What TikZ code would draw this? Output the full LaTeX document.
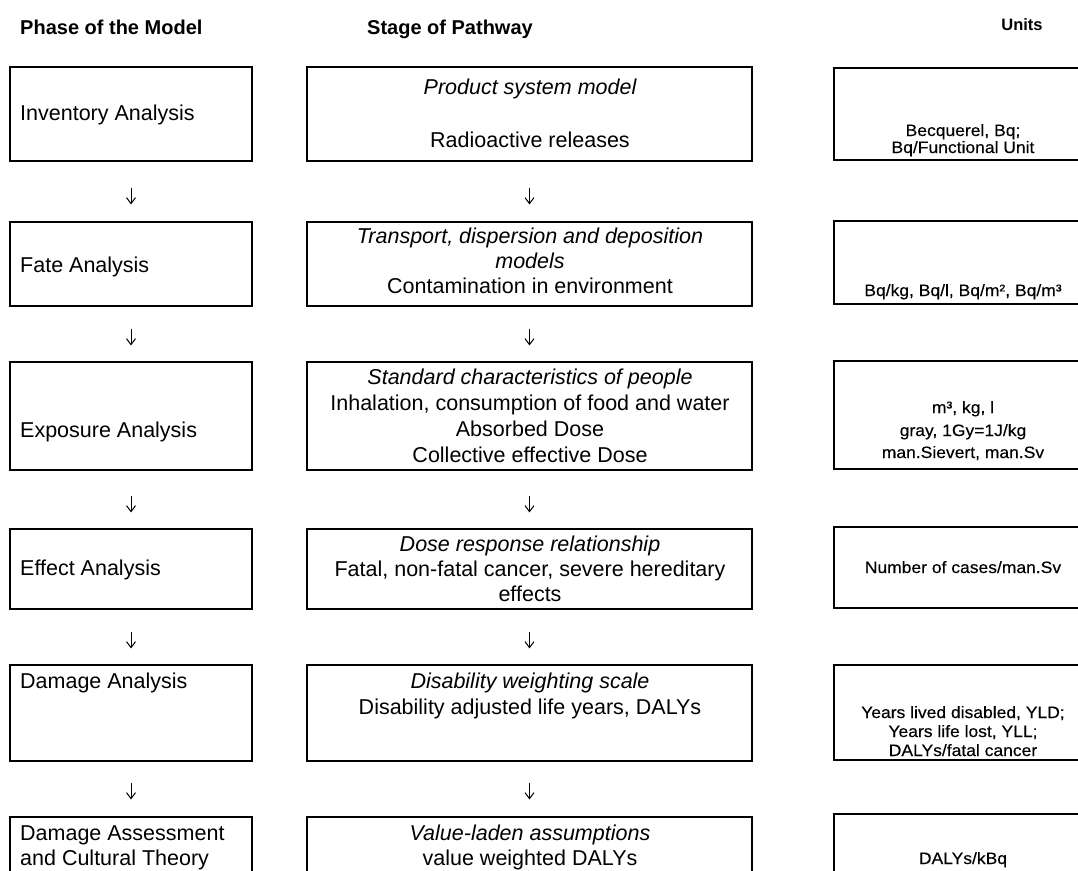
\documentclass[tikz,border=0pt]{standalone}
\usepackage{fontspec}
\setmainfont{Liberation Sans}
\newfontfamily\unitfont[FakeStretch=1.06,FakeBold=0.25]{Liberation Sans}
\usetikzlibrary{arrows.meta}

\begin{document}
\begin{tikzpicture}[x=1pt,y=-1pt,
  box/.style={draw, line width=1.1pt, rectangle, inner sep=0pt},
  body/.style={anchor=base, inner sep=0pt, font=\fontsize{21.5}{25.5}\selectfont},
  bodyl/.style={anchor=base west, inner sep=0pt, font=\fontsize{21.5}{25.5}\selectfont},
  bodyit/.style={anchor=base, inner sep=0pt, font=\fontsize{21.5}{25.5}\selectfont\itshape},
  unit/.style={anchor=base, inner sep=0pt, font=\unitfont\fontsize{16.5}{19}\selectfont},
  head/.style={anchor=base, inner sep=0pt, font=\fontsize{20}{23}\selectfont\bfseries},
  arr/.style={-{Straight Barb[length=6pt,width=9pt]}, line width=1pt},
  lbox/.style={box, minimum width=242pt},
  mbox/.style={box, minimum width=445pt},
  rbox/.style={box, minimum width=258pt},
]
\useasboundingbox (0,0) rectangle (1078,870);
\clip (0,0) rectangle (1078,870);

% headers
\node[head, anchor=base west] (hphase) at (20,34) {Phase of the Model};
\node[head] (hstage) at (450,34) {Stage of Pathway};
\node[head, font=\fontsize{16.5}{19}\selectfont\bfseries] (hunits) at (1022,30) {Units};

% row 1
\node[lbox, minimum height=94pt] (l1) at (131,114) {};
\node[mbox, minimum height=94pt] (m1) at (529.5,114) {};
\node[rbox, minimum height=92pt] (r1) at (963,114) {};
% row 2
\node[lbox, minimum height=84pt] (l2) at (131,264) {};
\node[mbox, minimum height=84pt] (m2) at (529.5,264) {};
\node[rbox, minimum height=83pt] (r2) at (963,262.5) {};
% row 3
\node[lbox, minimum height=108pt] (l3) at (131,416) {};
\node[mbox, minimum height=108pt] (m3) at (529.5,416) {};
\node[rbox, minimum height=108pt] (r3) at (963,415) {};
% row 4
\node[lbox, minimum height=80pt] (l4) at (131,569) {};
\node[mbox, minimum height=80pt] (m4) at (529.5,569) {};
\node[rbox, minimum height=81pt] (r4) at (963,567.5) {};
% row 5
\node[lbox, minimum height=96pt] (l5) at (131,713) {};
\node[mbox, minimum height=96pt] (m5) at (529.5,713) {};
\node[rbox, minimum height=95pt] (r5) at (963,712.5) {};
% row 6
\node[lbox, minimum height=90pt] (l6) at (131,862) {};
\node[mbox, minimum height=90pt] (m6) at (529.5,862) {};
\node[rbox, minimum height=92pt] (r6) at (963,860) {};

% left texts
\node[bodyl] (t11) at (20,120) {Inventory Analysis};
\node[bodyl] (t21) at (20,272) {Fate Analysis};
\node[bodyl] (t31) at (20,437) {Exposure Analysis};
\node[bodyl] (t41) at (20,575) {Effect Analysis};
\node[bodyl] (t51) at (20,688) {Damage Analysis};
\node[bodyl] (t61) at (20,840) {Damage Assessment};
\node[bodyl] (t62) at (20,865) {and Cultural Theory};

% middle texts
\node[bodyit] (s11) at (530,94) {Product system model};
\node[body] (s12) at (530,147) {Radioactive releases};
\node[bodyit] (s21) at (530,243) {Transport, dispersion and deposition};
\node[bodyit] (s22) at (530,268) {models};
\node[body] (s23) at (530,293) {Contamination in environment};
\node[bodyit] (s31) at (530,384) {Standard characteristics of people};
\node[body] (s32) at (530,410) {Inhalation, consumption of food and water};
\node[body] (s33) at (530,436) {Absorbed Dose};
\node[body] (s34) at (530,462) {Collective effective Dose};
\node[bodyit] (s41) at (530,551) {Dose response relationship};
\node[body] (s42) at (530,576) {Fatal, non-fatal cancer, severe hereditary};
\node[body] (s43) at (530,601) {effects};
\node[bodyit] (s51) at (530,688) {Disability weighting scale};
\node[body] (s52) at (530,714) {Disability adjusted life years, DALYs};
\node[bodyit] (s61) at (530,840) {Value-laden assumptions};
\node[body] (s62) at (530,865) {value weighted DALYs};

% unit texts
\node[unit] (u11) at (963,136) {Becquerel, Bq;};
\node[unit] (u12) at (963,153) {Bq/Functional Unit};
\node[unit] (u21) at (963,296) {Bq/kg, Bq/l, Bq/m², Bq/m³};
\node[unit] (u31) at (963,413) {m³, kg, l};
\node[unit] (u32) at (963,436) {gray, 1Gy=1J/kg};
\node[unit] (u33) at (963,458) {man.Sievert, man.Sv};
\node[unit] (u41) at (963,573) {Number of cases/man.Sv};
\node[unit] (u51) at (963,718) {Years lived disabled, YLD;};
\node[unit] (u52) at (963,737) {Years life lost, YLL;};
\node[unit] (u53) at (963,756) {DALYs/fatal cancer};
\node[unit] (u61) at (963,864) {DALYs/kBq};

% arrows
\draw[arr] ([yshift=-26pt]l1.south) -- ([yshift=17pt]l2.north);
\draw[arr] ([yshift=-26pt]m1.south) -- ([yshift=17pt]m2.north);
\draw[arr] ([yshift=-22pt]l2.south) -- ([yshift=16pt]l3.north);
\draw[arr] ([yshift=-22pt]m2.south) -- ([yshift=16pt]m3.north);
\draw[arr] ([yshift=-25pt]l3.south) -- ([yshift=16pt]l4.north);
\draw[arr] ([yshift=-25pt]m3.south) -- ([yshift=16pt]m4.north);
\draw[arr] ([yshift=-22pt]l4.south) -- ([yshift=16pt]l5.north);
\draw[arr] ([yshift=-22pt]m4.south) -- ([yshift=16pt]m5.north);
\draw[arr] ([yshift=-21pt]l5.south) -- ([yshift=17pt]l6.north);
\draw[arr] ([yshift=-21pt]m5.south) -- ([yshift=17pt]m6.north);
\end{tikzpicture}
\end{document}
